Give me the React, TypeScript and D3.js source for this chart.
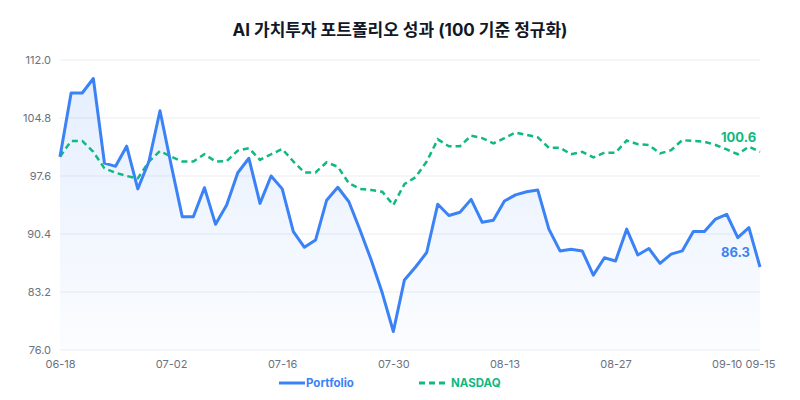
import React, { useEffect, useRef } from 'react';
import * as d3 from 'd3';

// Normalized to 100 on the first trading day
const portfolio = [
  100.0, 107.9, 107.9, 109.7, 99.2, 98.8, 101.3, 96.0, 99.4, 105.7,
  99.0, 92.55, 92.55, 96.15, 91.6, 94.0, 98.0, 99.8, 94.2, 97.6,
  96.0, 90.7, 88.75, 89.65, 94.6, 96.2, 94.4, 90.9, 87.2, 83.1,
  78.3, 84.7, 86.3, 88.1, 94.1, 92.7, 93.1, 94.7, 91.85, 92.1,
  94.5, 95.25, 95.65, 95.85, 91.0, 88.3, 88.5, 88.3, 85.3, 87.45,
  87.05, 91.0, 87.8, 88.6, 86.75, 87.9, 88.3, 90.7, 90.7, 92.25,
  92.85, 89.95, 91.2, 86.3,
];

const nasdaq = [
  100.0, 101.95, 101.95, 100.6, 98.55, 98.0, 97.6, 97.3, 99.4, 100.7,
  100.0, 99.4, 99.4, 100.3, 99.4, 99.45, 100.75, 101.05, 99.6, 100.3,
  100.95, 99.4, 98.05, 98.05, 99.3, 98.75, 96.7, 96.0, 95.85, 95.65,
  94.0, 96.6, 97.45, 99.4, 102.15, 101.3, 101.3, 102.6, 102.3, 101.65,
  102.3, 103.0, 102.7, 102.4, 101.1, 101.1, 100.3, 100.6, 99.9, 100.5,
  100.5, 102.0, 101.55, 101.45, 100.4, 100.8, 102.05, 101.95, 101.85, 101.45,
  100.9, 100.3, 101.25, 100.6,
];

const yTicks = [76.0, 83.2, 90.4, 97.6, 104.8, 112.0];
const startDate = '2025-06-18';
const endDate = '2025-09-15';

// trading days (weekdays) between start and end
function tradingDays(start: string, end: string): string[] {
  const out: string[] = [];
  const d = new Date(start + 'T00:00:00Z');
  const e = new Date(end + 'T00:00:00Z');
  while (d <= e) {
    const wd = d.getUTCDay();
    if (wd !== 0 && wd !== 6) out.push(d.toISOString().slice(5, 10));
    d.setUTCDate(d.getUTCDate() + 1);
  }
  return out;
}

const dates = tradingDays(startDate, endDate);

const BLUE = '#3b82f6';
const GREEN = '#10b981';
const FONT = 'Inter, "Noto Sans CJK KR", sans-serif';

const App: React.FC = () => {
  const svgRef = useRef<SVGSVGElement>(null);
  const width = 800;
  const height = 400;
  const marginLeft = 60;
  const marginRight = 40;
  const marginTop = 60;
  const marginBottom = 50;

  useEffect(() => {
    if (!svgRef.current) return;
    const svg = d3.select(svgRef.current);
    svg.selectAll('*').remove();

    const x = d3.scalePoint<string>()
      .domain(dates)
      .range([marginLeft, width - marginRight]);

    const y = d3.scaleLinear()
      .domain([76, 112])
      .range([height - marginBottom, marginTop]);

    // gradient for area
    const defs = svg.append('defs');
    const grad = defs.append('linearGradient')
      .attr('id', 'pfGrad')
      .attr('x1', 0).attr('y1', 0).attr('x2', 0).attr('y2', 1);
    grad.append('stop').attr('offset', '0%').attr('stop-color', BLUE).attr('stop-opacity', 0.13);
    grad.append('stop').attr('offset', '100%').attr('stop-color', BLUE).attr('stop-opacity', 0.02);

    // title
    svg.append('text')
      .attr('x', width / 2)
      .attr('y', 36)
      .attr('text-anchor', 'middle')
      .attr('font-family', FONT)
      .attr('font-size', 17)
      .attr('font-weight', 700)
      .attr('fill', '#111827')
      .text('AI 가치투자 포트폴리오 성과 (100 기준 정규화)');

    // grid
    svg.append('g')
      .selectAll('line')
      .data(yTicks)
      .enter()
      .append('line')
      .attr('x1', marginLeft)
      .attr('x2', width - marginRight)
      .attr('y1', d => y(d))
      .attr('y2', d => y(d))
      .attr('stroke', '#eceef2')
      .attr('stroke-width', 1.2);

    // y axis labels
    const yAxis = svg.append('g')
      .attr('transform', `translate(${marginLeft - 4},0)`)
      .call(d3.axisLeft(y).tickValues(yTicks).tickFormat(d => (+d).toFixed(1)).tickSize(0).tickPadding(5));
    yAxis.select('.domain').remove();
    yAxis.selectAll('text')
      .attr('font-family', FONT)
      .attr('font-size', 11)
      .attr('fill', '#6b7280');

    // x axis labels
    const xTickVals = dates.filter((_, i) => i % 10 === 0).concat([dates[dates.length - 1]]);
    const xAxis = svg.append('g')
      .attr('transform', `translate(0,${height - marginBottom + 4})`)
      .call(d3.axisBottom(x).tickValues(xTickVals).tickSize(0).tickPadding(6));
    xAxis.select('.domain').remove();
    xAxis.selectAll('text')
      .attr('font-family', FONT)
      .attr('font-size', 11)
      .attr('fill', '#6b7280');

    const idx = d3.range(dates.length);

    // area under portfolio
    const area = d3.area<number>()
      .x(i => x(dates[i]) || 0)
      .y0(y(76))
      .y1(i => y(portfolio[i]));
    svg.append('path')
      .datum(idx)
      .attr('fill', 'url(#pfGrad)')
      .attr('d', area);

    const line = (vals: number[]) => d3.line<number>()
      .x(i => x(dates[i]) || 0)
      .y(i => y(vals[i]));

    // nasdaq line
    svg.append('path')
      .datum(idx)
      .attr('fill', 'none')
      .attr('stroke', GREEN)
      .attr('stroke-width', 2.5)
      .attr('stroke-dasharray', '6,4')
      .attr('d', line(nasdaq));

    // portfolio line
    svg.append('path')
      .datum(idx)
      .attr('fill', 'none')
      .attr('stroke', BLUE)
      .attr('stroke-width', 3)
      .attr('stroke-linejoin', 'round')
      .attr('d', line(portfolio));

    // end labels
    const lastX = x(dates[dates.length - 1]) || 0;
    const endLabels = [
      { v: nasdaq[nasdaq.length - 1], c: GREEN },
      { v: portfolio[portfolio.length - 1], c: BLUE },
    ];
    svg.append('g')
      .selectAll('text')
      .data(endLabels)
      .enter()
      .append('text')
      .attr('x', lastX - 39)
      .attr('y', d => y(d.v) - 10)
      .attr('font-family', FONT)
      .attr('font-size', 13)
      .attr('font-weight', 700)
      .attr('fill', d => d.c)
      .text(d => d.v.toFixed(1));

    // legend
    const legend = [
      { name: 'Portfolio', c: BLUE, dash: null as string | null, x0: 279, tx: 306 },
      { name: 'NASDAQ', c: GREEN, dash: '6,4', x0: 419, tx: 451 },
    ];
    const lg = svg.append('g').attr('transform', 'translate(0,383)');
    legend.forEach(l => {
      lg.append('line')
        .attr('x1', l.x0)
        .attr('x2', l.x0 + 26)
        .attr('y1', 0)
        .attr('y2', 0)
        .attr('stroke', l.c)
        .attr('stroke-width', 3)
        .attr('stroke-dasharray', l.dash);
      lg.append('text')
        .attr('x', l.tx)
        .attr('y', 4)
        .attr('font-family', FONT)
        .attr('font-size', 11.5)
        .attr('font-weight', 700)
        .attr('fill', l.c)
        .text(l.name);
    });
  }, []);

  return (
    <svg
      ref={svgRef}
      width={width}
      height={height}
      style={{ display: 'block', position: 'absolute', left: 0, top: 0, background: '#fff' }}
    />
  );
};

export default App;
